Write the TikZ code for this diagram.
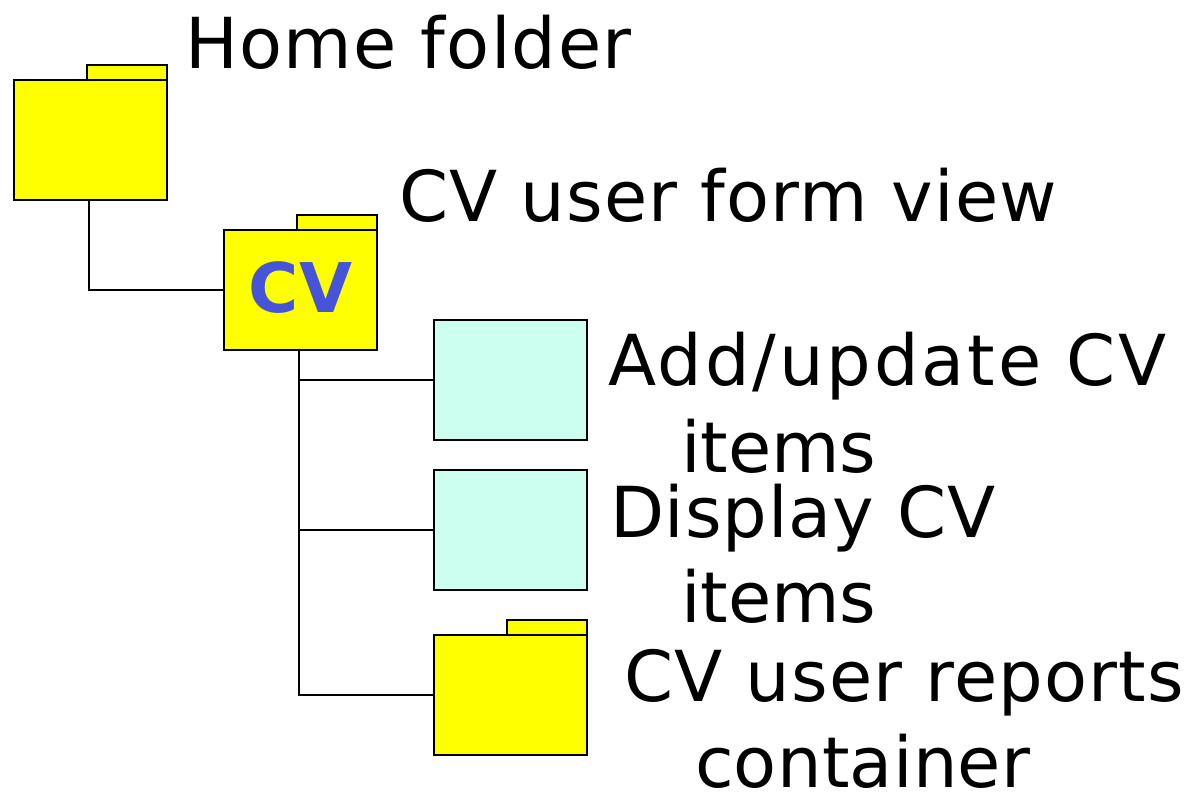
\documentclass[tikz,border=0pt]{standalone}
\usepackage{fontspec}
\setmainfont{DejaVu Sans}
\definecolor{foldercolor}{RGB}{255,255,0}
\definecolor{pagecolor}{HTML}{CCFFF0}
\definecolor{cvcolor}{HTML}{4655D8}
\tikzset{
    every node/.style={inner sep=0pt, outer sep=0pt}
}
\tikzset{
    folder/.style={rectangle, draw, fill=foldercolor, line width=1pt,
    	minimum width=3.06cm, minimum height=2.4cm}
}
\tikzset{
    foldertab/.style={rectangle, draw, fill=foldercolor, line width=1pt,
    	minimum width=1.6cm, minimum height=.3cm}
}
\tikzset{
    page/.style={rectangle, draw, fill=pagecolor, line width=1pt,
    	minimum width=3.06cm, minimum height=2.4cm}
}
\tikzset{
    caption/.style={anchor=base west,
    	font=\fontsize{40}{48}\selectfont\addfontfeature{LetterSpace=#1}},
    caption/.default=0
}

\begin{document}
\begin{tikzpicture}
	\useasboundingbox (0,0) rectangle (23.78,-15.84);

	\node (hometab) [foldertab] at (2.54,-1.45) {};
	\node (home) [folder] at (1.81,-2.8) {};
	\node (cvtab) [foldertab] at (6.74,-4.45) {};
	\node (cv) [folder, text=cvcolor, font=\fontsize{39}{48}\selectfont\bfseries] at (6.01,-5.8) {\raisebox{.1cm}{CV}};
	\node (add) [page] at (10.21,-7.6) {};
	\node (display) [page] at (10.21,-10.6) {};
	\node (reportstab) [foldertab] at (10.94,-12.55) {};
	\node (reports) [folder] at (10.21,-13.9) {};

	\node (homelabel) [caption=2] at (3.7,-1.36) {Home folder};
	\node (cvlabel) [caption=1.6] at (7.98,-4.42) {CV user form view};
	\node (addlabel) [caption=4.1] at (12.16,-7.7) {Add/update CV};
	\node (additems) [caption] at (13.62,-9.44) {items};
	\node (displaylabel) [caption=1.2] at (12.2,-10.74) {Display CV};
	\node (displayitems) [caption] at (13.62,-12.44) {items};
	\node (reportslabel) [caption=1.6] at (12.48,-14.02) {CV user reports};
	\node (reportsbox) [caption=.4] at (13.9,-15.74) {container};

	\draw [line width=1pt] ([xshift=-.03cm]home.south) |- (cv.west);
	\draw [line width=1pt] ([xshift=-.03cm]cv.south) |- (add.west);
	\draw [line width=1pt] ([xshift=-.03cm]cv.south) |- (display.west);
	\draw [line width=1pt] ([xshift=-.03cm]cv.south) |- (reports.west);
\end{tikzpicture}
\end{document}
